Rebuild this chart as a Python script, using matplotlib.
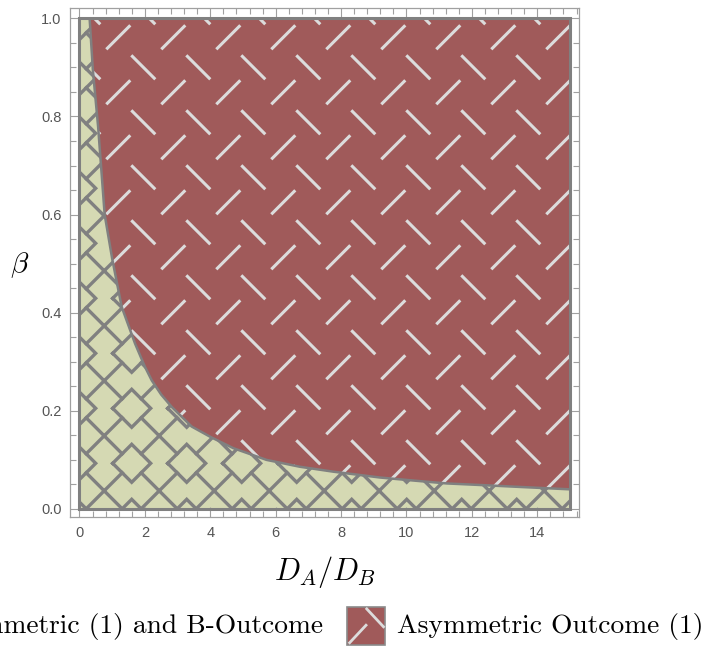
import numpy as np
import matplotlib
matplotlib.use("Agg")
import matplotlib.pyplot as plt
from matplotlib.collections import LineCollection
from matplotlib.patches import Polygon, Rectangle
from matplotlib.ticker import MultipleLocator

plt.rcParams['mathtext.fontset'] = 'cm'

# boundary curve between the two outcome regions
ratio = [0.31, 0.41, 0.57, 0.77, 1.0, 1.29, 1.7, 2.0, 2.21, 2.5, 2.82, 3.43, 4.0,
         4.7, 5.72, 6.74, 7.76, 9.2, 10.2, 11.23, 12.2, 13.27, 15.0]
beta = [1.0, 0.894, 0.779, 0.6, 0.51, 0.412, 0.337, 0.29, 0.262, 0.233, 0.208, 0.168, 0.147,
        0.124, 0.100, 0.086, 0.076, 0.064, 0.058, 0.052, 0.049, 0.0455, 0.040]
x_range = [0, 15]
y_range = [0, 1]
x_ticks = [0, 2, 4, 6, 8, 10, 12, 14]
y_ticks = [0.0, 0.2, 0.4, 0.6, 0.8, 1.0]
legend_labels = ["Symmetric (1) and B-Outcome", "Asymmetric Outcome (1)"]

green = '#d5d9b3'
red = '#a05a5a'
hatch_gray = '#808080'
dash_gray = '#dcdcdc'

W, H = 707, 648
fig = plt.figure(figsize=(W / 100, H / 100), dpi=100)
ax = fig.add_axes([70 / W, 1 - 517.3 / H, (579.3 - 70) / W, (517.3 - 8.3) / H])
ax.set_xlim(-0.29, 15.285)
ax.set_ylim(-0.017, 1.0204)

x0, x1 = x_range
y0, y1 = y_range
low_poly = [(x0, y0), (x1, y0)] + list(zip(ratio[::-1], beta[::-1])) + [(x0, y1)]
high_poly = list(zip(ratio, beta)) + [(x1, y1)]

low = Polygon(low_poly, closed=True, facecolor=green, edgecolor='none', zorder=1)
high = Polygon(high_poly, closed=True, facecolor=red, edgecolor='none', zorder=1)
ax.add_patch(low)
ax.add_patch(high)

inv = ax.transData.inverted()


def to_data(pts):
    # pts in image pixels (y downward)
    pts = np.asarray(pts, dtype=float)
    return inv.transform(np.column_stack([pts[:, 0], H - pts[:, 1]]))


# crosshatch with small diamonds for the lower region
segs = []
hd = 19.0
for i in range(-3, 11):
    for j in range(-9, 4):
        cx, cy = 131.7 + 55 * i, 408.3 + 55 * j
        segs.append(to_data([(cx - hd, cy), (cx, cy - hd), (cx + hd, cy),
                             (cx, cy + hd), (cx - hd, cy)]))
        for sx in (-1, 1):
            for sy in (-1, 1):
                segs.append(to_data([(cx + sx * hd / 2, cy + sy * hd / 2),
                                     (cx + sx * 27.5, cy + sy * 27.5)]))
lc = LineCollection(segs, colors=hatch_gray, linewidths=2.4, zorder=2,
                    capstyle='projecting', joinstyle='miter')
lc.set_clip_path(low)
ax.add_collection(lc)

# short dashes for the upper region
dsegs = []
d = 12.0
for i in range(-6, 6):
    for j in range(-4, 8):
        cx, cy = 363.3 + 55 * i, 177.3 + 55 * j
        dsegs.append(to_data([(cx - d, cy - d), (cx + d, cy + d)]))
        px, py = cx - 25, cy + 25
        dsegs.append(to_data([(px - d, py + d), (px + d, py - d)]))
dc = LineCollection(dsegs, colors=dash_gray, linewidths=2.2, zorder=2, capstyle='butt')
dc.set_clip_path(high)
ax.add_collection(dc)

# region outlines
ax.plot([x0, x1, x1, x0, x0], [y0, y0, y1, y1, y0], color=hatch_gray, lw=2.2,
        zorder=3, solid_joinstyle='miter')
ax.plot(ratio, beta, color=hatch_gray, lw=1.8, zorder=3)

# frame and ticks
for s in ax.spines.values():
    s.set_color('#a0a0a0')
    s.set_linewidth(0.9)
ax.set_xticks(x_ticks)
ax.set_yticks(y_ticks)
ax.set_xticklabels([str(t) for t in x_ticks])
ax.set_yticklabels(['%.1f' % t for t in y_ticks])
ax.xaxis.set_minor_locator(MultipleLocator(0.4))
ax.yaxis.set_minor_locator(MultipleLocator(0.05))
ax.tick_params(which='both', direction='in', top=True, right=True,
               color='#a0a0a0', width=0.8)
ax.tick_params(which='major', length=7, pad=6, labelsize=10.5, labelcolor='#555555')
ax.tick_params(which='minor', length=4)
for lab in ax.get_xticklabels() + ax.get_yticklabels():
    lab.set_fontfamily('Liberation Sans')

ax.set_xlabel(r'$D_A/D_B$', fontsize=22)
ax.xaxis.set_label_coords(0.5, (517.3 - 572) / 509)
ax.xaxis.label.set_va('center')
ax.set_ylabel(r'$\beta$', fontsize=21, rotation=0)
ax.yaxis.set_label_coords((20 - 70) / 509.3, (517.3 - 265) / 509)
ax.yaxis.label.set_va('center')
ax.yaxis.label.set_ha('center')

# legend row along the bottom
ty = 1 - 627 / H
sw = 38
t1 = fig.text(323 / W, ty, legend_labels[0], fontfamily='cmr10', fontsize=19.8,
              ha='right', va='center')
fig.canvas.draw()
bb = t1.get_window_extent()
gx = bb.x0 - 11 - sw
fig.add_artist(Rectangle((gx / W, (H - 645) / H), sw / W, sw / H,
                         transform=fig.transFigure, facecolor=green,
                         edgecolor='#8a8a8a', lw=1.2))

fig.add_artist(Rectangle((347 / W, (H - 645) / H), sw / W, sw / H,
                         transform=fig.transFigure, facecolor=red,
                         edgecolor='#8a8a8a', lw=1.2))
for (ax0, ay0), (ax1, ay1) in [((0.52, 0.95), (0.96, 0.48)), ((0.07, 0.06), (0.50, 0.52))]:
    fig.add_artist(plt.Line2D([(347 + ax0 * sw) / W, (347 + ax1 * sw) / W],
                              [((H - 645) + ay0 * sw) / H, ((H - 645) + ay1 * sw) / H],
                              transform=fig.transFigure, color=dash_gray, lw=2))
fig.text(397 / W, ty, legend_labels[1], fontfamily='cmr10', fontsize=19.8,
         ha='left', va='center')

fig.savefig('out.png', dpi=100)
